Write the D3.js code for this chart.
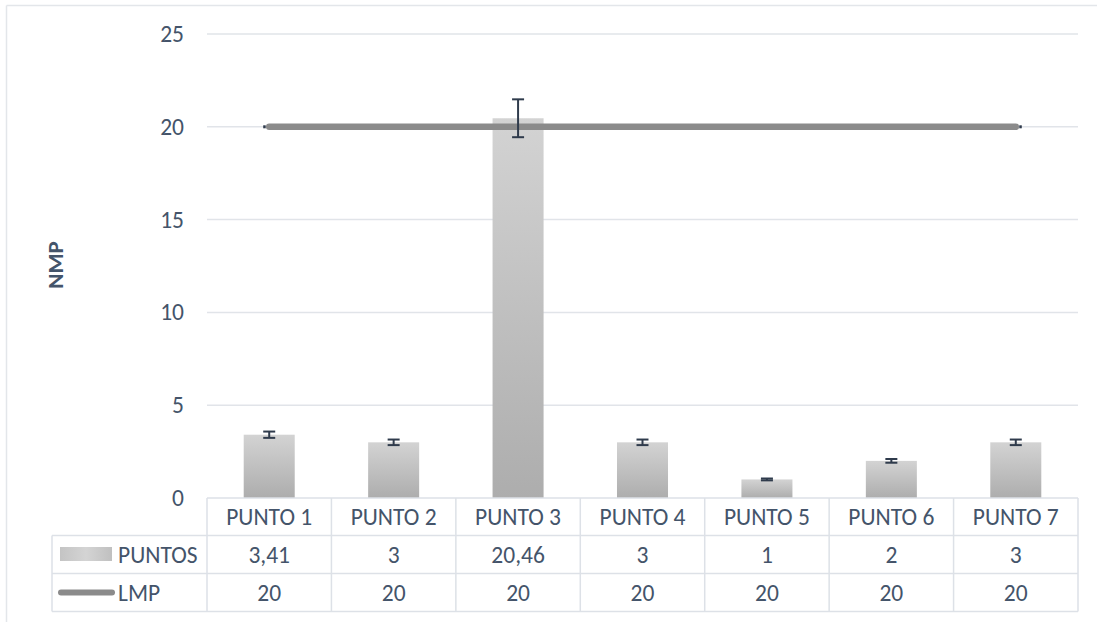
<!DOCTYPE html>
<html>
<head>
<meta charset="utf-8">
<script src="https://cdn.jsdelivr.net/npm/d3@7"></script>
<style>
  html, body { margin: 0; padding: 0; background: #fff; }
  svg { display: block; }
  text { font-family: Carlito, Calibri, Lato, "Open Sans", sans-serif; fill: #44546a; }
</style>
</head>
<body>
<svg id="chart" width="1097" height="622"></svg>
<script>
const categories = ["PUNTO 1", "PUNTO 2", "PUNTO 3", "PUNTO 4", "PUNTO 5", "PUNTO 6", "PUNTO 7"];
const puntos = [3.41, 3, 20.46, 3, 1, 2, 3];
const puntosError = [0.17, 0.15, 1.02, 0.15, 0.05, 0.1, 0.15];
const lmp = [20, 20, 20, 20, 20, 20, 20];
const yTicks = [0, 5, 10, 15, 20, 25];
const seriesNames = ["PUNTOS", "LMP"];
const yTitle = "NMP";

const svg = d3.select("#chart");
const W = 1097, H = 622;
const plot = { left: 207, right: 1078, top: 34, bottom: 498 };
const rowH = [498, 535.5, 573.5, 611.5];
const tableLeft = 52;
const fontSize = 23.5;

const locale = d3.formatLocale({ decimal: ",", thousands: ".", grouping: [3], currency: ["", ""] });
const fmt = v => locale.format("~g")(v);

const x = d3.scaleBand().domain(categories).range([plot.left, plot.right]).paddingInner(0).paddingOuter(0);
const y = d3.scaleLinear().domain([0, 25]).range([plot.bottom, plot.top]);

// outer chart border (partial)
svg.append("line").attr("x1", 6.5).attr("x2", W).attr("y1", 5.5).attr("y2", 5.5)
  .attr("stroke", "#e3e6ea").attr("stroke-width", 1.5);
svg.append("line").attr("x1", 6.5).attr("x2", 6.5).attr("y1", 5.5).attr("y2", H)
  .attr("stroke", "#e3e6ea").attr("stroke-width", 1.5);

const defs = svg.append("defs");
const grad = defs.append("linearGradient").attr("id", "barGrad")
  .attr("x1", 0).attr("y1", 0).attr("x2", 0).attr("y2", 1);
grad.append("stop").attr("offset", "0%").attr("stop-color", "#d3d3d3");
grad.append("stop").attr("offset", "100%").attr("stop-color", "#adadad");
const gradH = defs.append("linearGradient").attr("id", "legGrad")
  .attr("x1", 0).attr("y1", 0).attr("x2", 1).attr("y2", 0);
gradH.append("stop").attr("offset", "0%").attr("stop-color", "#c4c4c4");
gradH.append("stop").attr("offset", "50%").attr("stop-color", "#d4d4d4");
gradH.append("stop").attr("offset", "100%").attr("stop-color", "#c0c0c0");

// y axis labels
const yAxis = d3.axisLeft(y).tickValues(yTicks).tickSize(0).tickPadding(23);
const gAxis = svg.append("g").attr("transform", `translate(${plot.left},0)`).call(yAxis);
gAxis.select(".domain").remove();
gAxis.selectAll("text").attr("font-size", fontSize).attr("fill", "#44546a")
  .style("font-family", "Carlito, Calibri, Lato, sans-serif");
// gridlines
svg.append("g").selectAll("line").data(yTicks.filter(t => t > 0)).join("line")
  .attr("x1", plot.left).attr("x2", plot.right)
  .attr("y1", d => y(d)).attr("y2", d => y(d))
  .attr("stroke", "#e1e4e9").attr("stroke-width", 1.5);

// y title
svg.append("text").text(yTitle)
  .attr("transform", `translate(63,265) rotate(-90)`)
  .attr("text-anchor", "middle").attr("font-weight", "bold").attr("font-size", 23);

// bars
const barW = x.bandwidth() * 0.41;
svg.append("g").selectAll("rect").data(puntos).join("rect")
  .attr("x", (d, i) => x(categories[i]) + x.bandwidth() / 2 - barW / 2)
  .attr("width", barW)
  .attr("y", d => y(d))
  .attr("height", d => y(0) - y(d))
  .attr("fill", "url(#barGrad)");

// LMP line
const cx = i => x(categories[i]) + x.bandwidth() / 2;
const line = d3.line().x((d, i) => cx(i)).y(d => y(d));
svg.append("path").datum(lmp).attr("d", line)
  .attr("fill", "none").attr("stroke", "#8b8b8b").attr("stroke-width", 6.5)
  .attr("stroke-linecap", "round");
// dark line-end marks
svg.append("g").selectAll("rect").data([0, lmp.length - 1]).join("rect")
  .attr("x", i => cx(i) + (i === 0 ? -6 : 3.5))
  .attr("y", i => y(lmp[i]) - 1.5)
  .attr("width", 2.5).attr("height", 3)
  .attr("fill", "#2f3b4c");

// error bars
const eb = svg.append("g").attr("stroke", "#2f3b4c").attr("stroke-width", 2).attr("fill", "none");
puntos.forEach((v, i) => {
  const c = cx(i);
  const hi = y(v + puntosError[i]), lo = y(v - puntosError[i]);
  eb.append("line").attr("x1", c).attr("x2", c).attr("y1", hi).attr("y2", lo);
  eb.append("line").attr("x1", c - 6).attr("x2", c + 6).attr("y1", hi).attr("y2", hi);
  eb.append("line").attr("x1", c - 6).attr("x2", c + 6).attr("y1", lo).attr("y2", lo);
});

// data table
const tbl = svg.append("g").attr("stroke", "#dde1e7").attr("stroke-width", 1.5);
tbl.append("line").attr("x1", plot.left).attr("x2", plot.right).attr("y1", rowH[0]).attr("y2", rowH[0]);
[1, 2, 3].forEach(k => tbl.append("line").attr("x1", tableLeft).attr("x2", plot.right)
  .attr("y1", rowH[k]).attr("y2", rowH[k]));
tbl.append("line").attr("x1", tableLeft).attr("x2", tableLeft).attr("y1", rowH[1]).attr("y2", rowH[3]);
categories.forEach(c => tbl.append("line").attr("x1", x(c)).attr("x2", x(c)).attr("y1", rowH[0]).attr("y2", rowH[3]));
tbl.append("line").attr("x1", plot.right).attr("x2", plot.right).attr("y1", rowH[0]).attr("y2", rowH[3]);

const rowMid = k => (rowH[k] + rowH[k + 1]) / 2;
svg.append("g").selectAll("text").data(categories).join("text")
  .attr("x", d => x(d) + x.bandwidth() / 2).attr("y", rowMid(0))
  .attr("dy", "0.35em").attr("text-anchor", "middle").attr("font-size", fontSize).text(d => d);
[puntos, lmp].forEach((series, k) => {
  svg.append("g").selectAll("text").data(series).join("text")
    .attr("x", (d, i) => cx(i)).attr("y", rowMid(k + 1))
    .attr("dy", "0.35em").attr("text-anchor", "middle").attr("font-size", fontSize).text(d => fmt(d));
});

// legend keys in table
svg.append("rect").attr("x", 60).attr("y", 547).attr("width", 52).attr("height", 14).attr("fill", "url(#legGrad)");
svg.append("line").attr("x1", 61).attr("x2", 112).attr("y1", rowMid(2)).attr("y2", rowMid(2))
  .attr("stroke", "#8b8b8b").attr("stroke-width", 6).attr("stroke-linecap", "round");
seriesNames.forEach((s, k) => {
  svg.append("text").attr("x", 118).attr("y", rowMid(k + 1)).attr("dy", "0.35em")
    .attr("font-size", fontSize).text(s);
});
</script>
</body>
</html>
